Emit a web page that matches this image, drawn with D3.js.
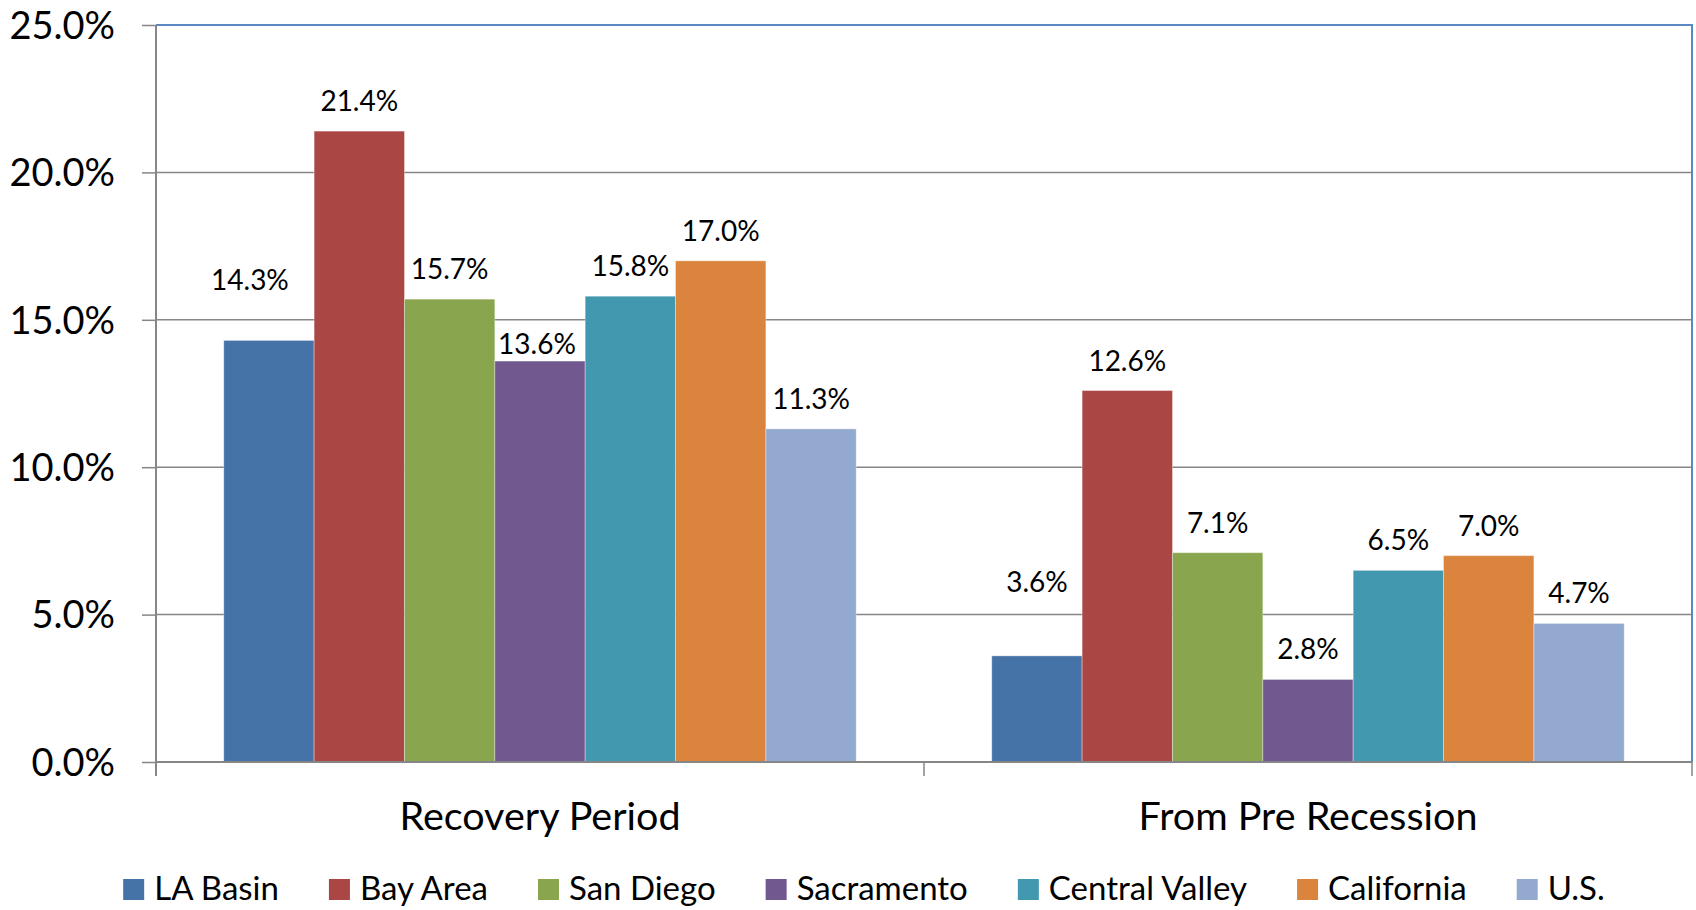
<!DOCTYPE html>
<html>
<head>
<meta charset="utf-8">
<script src="https://cdn.jsdelivr.net/npm/d3@7"></script>
<style>
  html, body { margin: 0; padding: 0; background: #fff; }
  svg { display: block; font-family: Lato, "Open Sans", sans-serif; }
</style>
</head>
<body>
<svg id="chart" width="1696" height="910"></svg>
<script>
// ---- data ----
const categories = ["Recovery Period", "From Pre Recession"];
const seriesNames = ["LA Basin", "Bay Area", "San Diego", "Sacramento", "Central Valley", "California", "U.S."];
const recoveryPeriod = [14.3, 21.4, 15.7, 13.6, 15.8, 17.0, 11.3];
const fromPreRecession = [3.6, 12.6, 7.1, 2.8, 6.5, 7.0, 4.7];
const yTicks = [0, 5, 10, 15, 20, 25];

// ---- styles ----
const colors = ["#4572A7", "#AA4643", "#89A54E", "#71588F", "#4198AF", "#DB843D", "#93A9CF"];
// manual label placement tweaks (px) as in the original
const labelNudge = {
  "Recovery Period|LA Basin": { dx: -19, dy: -30 },
  "Recovery Period|Sacramento": { dx: -3, dy: 13 },
  "From Pre Recession|LA Basin": { dx: 0, dy: -44 }
};

const valuesByCategory = [recoveryPeriod, fromPreRecession];
const table = categories.map((c, ci) => ({
  category: c,
  values: seriesNames.map((s, si) => ({ series: s, value: valuesByCategory[ci][si], idx: si }))
}));

const svg = d3.select("#chart");
const plot = { left: 156, right: 1692, top: 25, bottom: 762 };

const x0 = d3.scaleBand().domain(categories).range([plot.left, plot.right]).padding(0);
const x1 = d3.scaleBand().domain(seriesNames).range([0, x0.bandwidth()]).paddingInner(0).paddingOuter(0.75);
const y = d3.scaleLinear().domain([0, 25]).range([plot.bottom, plot.top]);

const gridColor = "#868686";

// gridlines
svg.append("g").selectAll("line").data(yTicks.filter(t => t > 0 && t < 25)).join("line")
  .attr("x1", plot.left).attr("x2", plot.right)
  .attr("y1", d => y(d)).attr("y2", d => y(d))
  .attr("stroke", gridColor).attr("stroke-width", 1.5);

// plot-area border (top & right, blue)
svg.append("path")
  .attr("d", `M${plot.left},${plot.top}H${plot.right}V${plot.bottom}`)
  .attr("fill", "none").attr("stroke", "#5B87C3").attr("stroke-width", 2);

// bars
const groups = svg.append("g").selectAll("g").data(table).join("g")
  .attr("transform", d => `translate(${x0(d.category)},0)`);

groups.selectAll("rect").data(d => d.values).join("rect")
  .attr("x", d => x1(d.series))
  .attr("y", d => y(d.value))
  .attr("width", x1.bandwidth())
  .attr("height", d => y(0) - y(d.value))
  .attr("fill", d => colors[d.idx])
  .attr("stroke", "rgba(255,255,255,0.35)")
  .attr("stroke-width", 1);

// data labels
const fmt = d3.format(".1f");
groups.each(function(g) {
  d3.select(this).selectAll("text").data(g.values).join("text")
    .attr("x", d => x1(d.series) + x1.bandwidth() / 2 + ((labelNudge[g.category + "|" + d.series] || {}).dx || 0))
    .attr("y", d => y(d.value) - 20 + ((labelNudge[g.category + "|" + d.series] || {}).dy || 0))
    .attr("text-anchor", "middle")
    .attr("font-size", 28)
    .attr("fill", "#000")
    .text(d => fmt(d.value) + "%");
});

// y axis
const yAxis = d3.axisLeft(y).tickValues(yTicks).tickSize(14).tickPadding(27)
  .tickFormat(d => fmt(d) + "%");
const gy = svg.append("g").attr("transform", `translate(${plot.left},0)`).call(yAxis);
gy.select(".domain").attr("stroke", gridColor).attr("stroke-width", 2)
  .attr("d", `M0,${plot.top}V${plot.bottom + 14}`);
gy.selectAll(".tick line").attr("stroke", gridColor).attr("stroke-width", 1.5);
gy.selectAll(".tick text").attr("font-size", 38).attr("fill", "#000")
  .attr("font-family", "Lato, 'Open Sans', sans-serif").attr("dy", "0.35em");

// x axis
const gx = svg.append("g").attr("transform", `translate(0,${plot.bottom})`);
gx.append("line").attr("x1", plot.left).attr("x2", plot.right).attr("y1", 0).attr("y2", 0)
  .attr("stroke", gridColor).attr("stroke-width", 2);
const boundaries = categories.map(c => x0(c)).concat([x0(categories[categories.length - 1]) + x0.bandwidth()]);
gx.selectAll("line.tk").data(boundaries).join("line").attr("class", "tk")
  .attr("x1", d => d).attr("x2", d => d).attr("y1", 0).attr("y2", 14)
  .attr("stroke", gridColor).attr("stroke-width", 1.5);
gx.selectAll("text").data(categories).join("text")
  .attr("x", d => x0(d) + x0.bandwidth() / 2)
  .attr("y", 68)
  .attr("text-anchor", "middle")
  .attr("font-size", 39.5)
  .attr("fill", "#000")
  .text(d => d);

// legend
const legend = svg.append("g");
const sq = 21, gapText = 10, gapItem = 50;
let cx = 0;
const items = legend.selectAll("g").data(seriesNames).join("g");
items.append("rect").attr("width", sq).attr("height", sq).attr("y", -21)
  .attr("fill", (d, i) => colors[i]);
items.append("text").attr("x", sq + gapText).attr("y", 0)
  .attr("font-size", 33).attr("fill", "#000").text(d => d);
items.each(function() {
  const w = this.querySelector("text").getComputedTextLength();
  d3.select(this).attr("transform", `translate(${cx},0)`);
  cx += sq + gapText + w + gapItem;
});
const totalW = cx - gapItem;
legend.attr("transform", `translate(${864 - totalW / 2},900)`);
</script>
</body>
</html>
